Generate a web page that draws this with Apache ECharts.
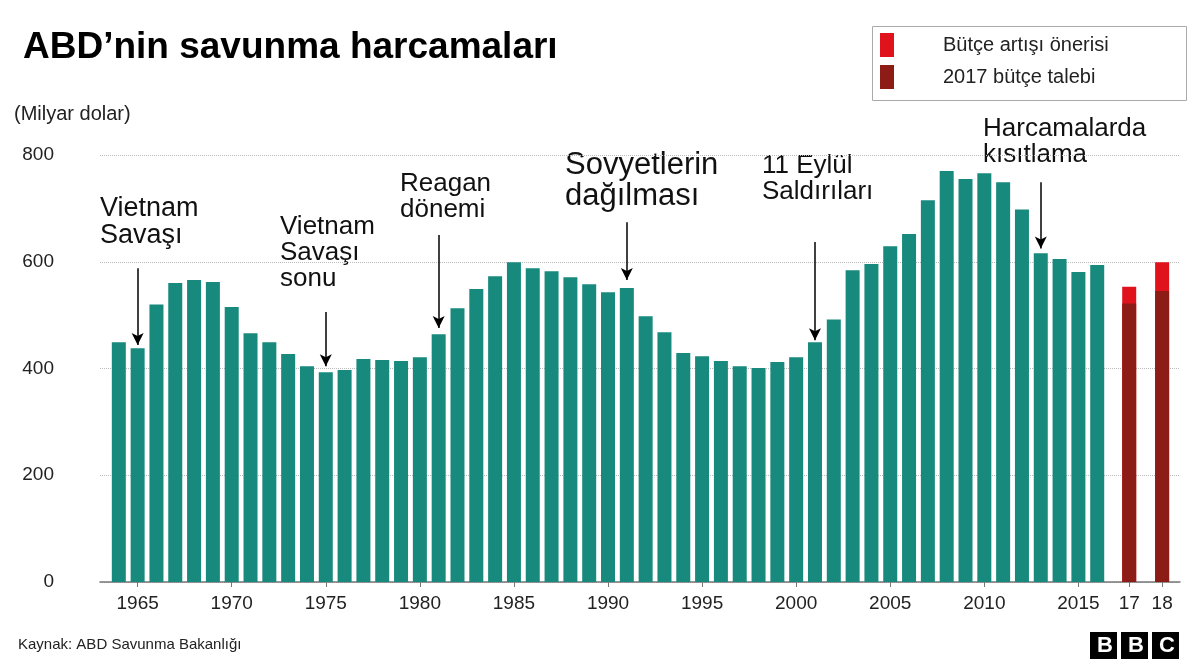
<!DOCTYPE html>
<html><head><meta charset="utf-8">
<script src="https://cdn.jsdelivr.net/npm/echarts@6/dist/echarts.min.js"></script>
<style>html,body{margin:0;padding:0;background:#fff}#c{width:1200px;height:668px}</style>
</head><body><div id="c"></div>
<script>
const years = [];
for (let y = 1964; y <= 2016; y++) years.push(y);
const spending = [449,438,520,560,566,562,515,466,449,427,404,393,397,418,416,414,421,464,513,549,573,599,588,582,571,558,543,551,498,468,429,423,414,404,401,412,421,449,492,584,596,629,652,715,770,755,766,749,698,616,605,581,594];
const budgetPos = [2017.7, 2019.45];
const budgetLabels = ['17', '18'];
const budgetRequest = [522, 545];
const budgetIncrease = [31, 54];
const tickValues = [1965,1970,1975,1980,1985,1990,1995,2000,2005,2010,2015];
const annotations = [
  {text:'Vietnam\nSavaşı', left:100, top:195, size:27, x:1965, from:588, to:444},
  {text:'Vietnam\nSavaşı\nsonu', left:280, top:214, size:26, x:1975, from:506, to:404},
  {text:'Reagan\ndönemi', left:400, top:171, size:26, x:1981, from:650, to:476},
  {text:'Sovyetlerin\ndağılması', left:565, top:150, size:31, x:1991, from:674, to:566},
  {text:'11 Eylül\nSaldırıları', left:762, top:153, size:26, x:2001, from:637, to:453},
  {text:'Harcamalarda\nkısıtlama', left:983, top:116, size:26, x:2013, from:749, to:625}
];
const FONT = 'Liberation Sans, Arial, sans-serif';
const chart = echarts.init(document.getElementById('c'));
const labelMap = {};
tickValues.forEach(v => labelMap[v] = String(v));
budgetPos.forEach((v,i) => labelMap[v] = budgetLabels[i]);
chart.setOption({
  animation:false,
  textStyle:{fontFamily:FONT},
  title:{text:'ABD’nin savunma harcamaları', left:18, top:24,
    textStyle:{fontSize:37, fontWeight:'bold', color:'#000', fontFamily:FONT}},
  legend:{orient:'vertical', left:880, top:33, itemWidth:14, itemHeight:24, itemGap:8,
    padding:[0,0,0,0], textStyle:{fontSize:20, color:'#222', padding:[0,0,0,44]},
    data:['Bütçe artışı önerisi','2017 bütçe talebi'], icon:'rect'},
  grid:{left:100, right:20, top:155, bottom:86},
  xAxis:{type:'value', min:1963, max:2020.4,
    axisLine:{lineStyle:{color:'#777', width:1.5}},
    axisTick:{show:true, customValues:tickValues.concat(budgetPos), length:5, lineStyle:{color:'#777'}},
    axisLabel:{customValues:tickValues.concat(budgetPos), formatter:v => labelMap[v] || '',
      fontSize:19, color:'#222', margin:12},
    splitLine:{show:false}},
  yAxis:{type:'value', min:0, max:800, interval:200,
    axisLine:{show:false}, axisTick:{show:false},
    axisLabel:{fontSize:19, color:'#222', margin:46},
    splitLine:{lineStyle:{type:'dotted', color:'#bbb'}}},
  series:[
    {type:'bar', name:'spending', barWidth:14, barGap:'-100%', itemStyle:{color:'#178a7d'},
      data:years.map((y,i)=>[y, spending[i]]),
      markLine:{silent:true, symbol:['none','arrow'], symbolSize:[9,12],
        lineStyle:{color:'#000', width:1.5, type:'solid'}, label:{show:false},
        data:annotations.map(a => [{coord:[a.x, a.from]}, {coord:[a.x, a.to]}])}},
    {type:'bar', name:'Bütçe artışı önerisi', barWidth:14, barGap:'-100%', itemStyle:{color:'#e0121c'},
      data:budgetPos.map((p,i)=>[p, budgetRequest[i] + budgetIncrease[i]])},
    {type:'bar', name:'2017 bütçe talebi', barWidth:14, barGap:'-100%', itemStyle:{color:'#8e1c16'},
      data:budgetPos.map((p,i)=>[p, budgetRequest[i]])}
  ],
  graphic:[
    {type:'rect', left:870, top:24, shape:{width:314, height:74}, style:{fill:'none', stroke:'#aaa', lineWidth:1}},
    {type:'text', left:14, top:104, style:{text:'(Milyar dolar)', fontSize:20, fill:'#222', fontFamily:FONT}},
    {type:'text', left:18, top:637, style:{text:'Kaynak: ABD Savunma Bakanlığı', fontSize:15, fill:'#222', fontFamily:FONT}},
    ...['B','B','C'].flatMap((l,i)=>[
      {type:'rect', left:1090+i*31, top:632, shape:{width:27, height:27}, style:{fill:'#000'}},
      {type:'text', left:1097+i*31, top:635, style:{text:l, fontSize:22, fontWeight:'bold', fill:'#fff', fontFamily:FONT}}
    ]),
    ...annotations.map(a => ({type:'text', left:a.left, top:a.top,
      style:{text:a.text, fontSize:a.size, lineHeight:a.size*1.0, fill:'#111', fontFamily:FONT}}))
  ]
});
</script></body></html>
